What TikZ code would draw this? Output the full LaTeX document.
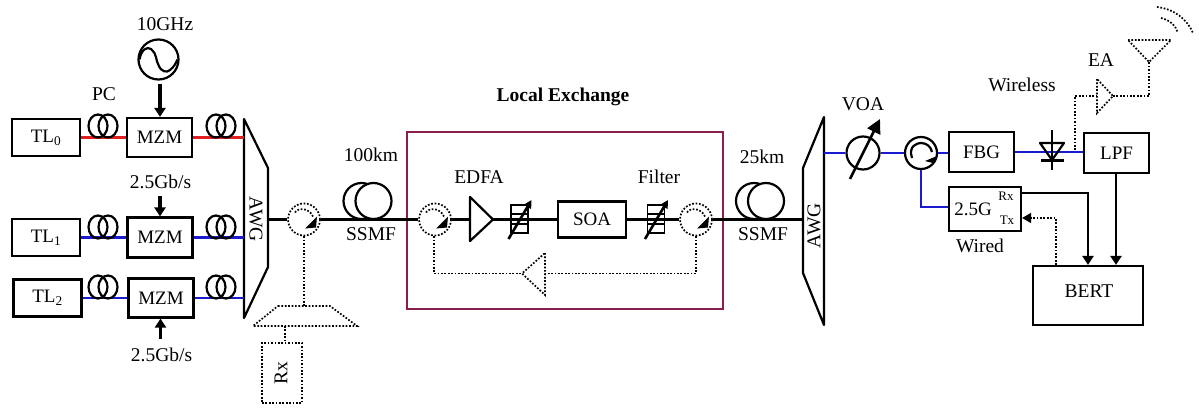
\documentclass[tikz,border=0pt]{standalone}
\usepackage{fontspec}
\setmainfont{Liberation Serif}
\usetikzlibrary{arrows.meta}
\definecolor{maroon}{HTML}{8A1F4F}
\definecolor{fibblue}{HTML}{1A1AD0}
\definecolor{fibred}{HTML}{E02020}
\tikzset{
  x=1pt,y=-1pt,
  box/.style={draw=black,line width=2.2pt,inner sep=0pt,align=center,font=\fontsize{19}{21}\selectfont},
  lab/.style={inner sep=0pt,font=\fontsize{19.5}{21}\selectfont},
  fibre/.style={line width=2.3pt,black},
  bluef/.style={line width=2.4pt,fibblue},
  redf/.style={line width=2.4pt,fibred},
  dots/.style={line width=1.7pt,dash pattern=on 1.7pt off 1.7pt},
  ring/.style={circle,draw=black,line width=2.2pt,inner sep=0pt,minimum size=#1},
  dring/.style={circle,dots,draw=black,inner sep=0pt,minimum size=32pt},
  coil/.style={line width=2.2pt},
  thick arrow/.style={line width=3.2pt,-{Triangle[length=9pt,width=11pt]}},
  sig/.style={line width=2.4pt,-{Triangle[length=9pt,width=11pt]}},
}
\newcommand{\pcoil}[2]{\draw[coil] (#1-5,#2) ellipse [x radius=9.5,y radius=11.5];\draw[coil] (#1+5,#2) ellipse [x radius=9.5,y radius=11.5];}
\newcommand{\fibrecoil}[2]{\draw[coil] (#1-6,#2) circle [radius=18];\draw[coil,fill=white] (#1+6,#2) circle [radius=18];}
\newcommand{\tunefilter}[2]{%
  \draw[line width=1.9pt] (#1-8.5,#2-14) rectangle (#1+8.5,#2+14);
  \draw[line width=1.9pt] (#1-8.5,#2-5) -- (#1+8.5,#2-5) (#1-8.5,#2+5) -- (#1+8.5,#2+5);
  \draw[line width=2.6pt,-{Triangle[length=8pt,width=8pt]}] (#1-11,#2+20) -- (#1+12,#2-19);}
\newcommand{\couplerin}[2]{%
  \draw[dots] (#1-9,#2-7) .. controls (#1-6,#2-12) and (#1+5,#2-12) .. (#1+9,#2-3);
  \fill (#1+1,#2+9) -- (#1+13,#2-3) -- (#1+12,#2+8) -- cycle;}
\begin{document}
\begin{tikzpicture}
\useasboundingbox (0,0) rectangle (1199,407);
% transmitters
\node[box,minimum width=68pt,minimum height=37pt] (tl0) at (46,137.5) {TL\textsubscript{0}};
\node[box,minimum width=68pt,minimum height=37pt] (tl1) at (46,237.5) {TL\textsubscript{1}};
\node[box,minimum width=68pt,minimum height=37pt] (tl2) at (47.5,298) {TL\textsubscript{2}};
\node[box,minimum width=65pt,minimum height=39pt] (mzm0) at (159.5,137.5) {MZM};
\node[box,minimum width=65pt,minimum height=40pt] (mzm1) at (160,237.5) {MZM};
\node[box,minimum width=65pt,minimum height=39pt] (mzm2) at (161,298) {MZM};
% AWG left
\coordinate (al1) at (244,119); \coordinate (al2) at (268,168);
\coordinate (al3) at (268,267); \coordinate (al4) at (244,318);
\draw[line width=2.2pt,line join=round] (al1) -- (al2) -- (al3) -- (al4) -- cycle;
\node[lab,rotate=-90] (awgl) at (256,219) {AWG};
\coordinate (a0) at (244,137.5); \coordinate (a1) at (244,237.5); \coordinate (a2) at (244,298);
\coordinate (aout) at (268,219.5);
\draw[redf] (tl0.east) -- (mzm0.west) (mzm0.east) -- (a0);
\draw[bluef] (tl1.east) -- (mzm1.west) (mzm1.east) -- (a1);
\draw[bluef] (tl2.east) -- (mzm2.west) (mzm2.east) -- (a2);
\pcoil{103}{126}\pcoil{221}{126}
\pcoil{103}{227}\pcoil{221}{227}
\pcoil{103}{287}\pcoil{221}{287}
% RF sources
\node[lab] (ghz) at (165,24) {10GHz};
\node[ring=40pt] (src) at (158.5,59.5) {};
\draw[line width=2.2pt] (139.5,59.5) .. controls (141,50) and (147,46) .. (151,49) .. controls (157,53) and (156,62) .. (158.5,65) .. controls (161,72) and (167,73) .. (170,70) .. controls (174,67) and (176,63) .. (177.5,59.5);
\coordinate (srcarr) at (160,84);
\draw[thick arrow] (srcarr) -- (mzm0.north -| srcarr);
\node[lab] (pc) at (104,94) {PC};
\node[lab] (d1) at (160.5,182) {2.5Gb/s};
\node[lab] (d2) at (161.5,355) {2.5Gb/s};
\coordinate (d1a) at (160,196); \coordinate (d2a) at (160.5,339);
\draw[thick arrow] (d1a) -- (mzm1.north -| d1a);
\draw[thick arrow] (d2a) -- (mzm2.south -| d2a);
% coupler 1 and Rx
\node[dring] (c1) at (304,219.5) {};
\couplerin{304}{219.5}
\draw[fibre] (aout) -- (c1.west);
\coordinate (t1) at (278,306); \coordinate (t2) at (330,306);
\coordinate (t3) at (357,326); \coordinate (t4) at (253,326);
\draw[dots] (t1) -- (t2) -- (t3) -- (t4) -- cycle;
\coordinate (t5) at (304,306); \coordinate (t6) at (285,326);
\node[draw,dots,minimum width=40pt,minimum height=60pt,inner sep=0pt] (rxb) at (282,373) {};
\node[lab,rotate=90] (rxt) at (281,373) {Rx};
\draw[dots] (c1.south) -- (t5);
\draw[dots] (t6) -- (rxb.north -| t6);
% local exchange
\node[draw=maroon,line width=2.4pt,minimum width=316pt,minimum height=177pt,inner sep=0pt] (le) at (565,220.5) {};
\node[lab,font=\fontsize{19.5}{21}\selectfont\bfseries] (let) at (563,97) {Local Exchange};
\node[dring] (c2) at (435,219.5) {};
\node[dring] (c3) at (696,219.5) {};
\couplerin{435}{219.5}\couplerin{696}{219.5}
\draw[fibre] (c1.east) -- (c2.west);
\fibrecoil{367.5}{201}
\node[lab] (km1) at (371,155) {100km};
\node[lab] (ss1) at (371,234) {SSMF};
\coordinate (e1) at (470,197); \coordinate (e2) at (470,241); \coordinate (e3) at (493,219.5);
\coordinate (f1) at (519.5,219.5); \coordinate (f2) at (656,219.5);
\node[box,minimum width=68pt,minimum height=36pt] (soa) at (592,219.5) {SOA};
\draw[fibre] (c2.east) -- (e1 |- e3) (e3) -- (soa.west) (soa.east) -- (c3.west);
\draw[line width=2.2pt,line join=round,fill=white] (e1) -- (e2) -- (e3) -- cycle;
\tunefilter{519.5}{219}\tunefilter{656}{219}
\node[lab] (edfa) at (479,177) {EDFA};
\node[lab] (filt) at (659,177) {Filter};
% loop
\coordinate (g1) at (545,253); \coordinate (g2) at (545,295); \coordinate (g3) at (522,273.5);
\draw[dots] (g1) -- (g2) -- (g3) -- cycle;
\draw[dots] (c2.south -| 434,0) -- (434,273.5) -- (g3);
\draw[dots] (c3.south) -- (696,273.5) -- (545,273.5);
% right AWG
\coordinate (ar1) at (824,117); \coordinate (ar2) at (803,168);
\coordinate (ar3) at (803,273); \coordinate (ar4) at (824,325);
\draw[line width=2.2pt,line join=round] (ar1) -- (ar2) -- (ar3) -- (ar4) -- cycle;
\node[lab,rotate=90] (awgr) at (814,226) {AWG};
\coordinate (arin) at (803,219.5); \coordinate (arout) at (824,153);
\draw[fibre] (c3.east) -- (arin);
\fibrecoil{760}{201}
\node[lab] (km2) at (762,157) {25km};
\node[lab] (ss2) at (763,234) {SSMF};
% VOA, circulator
\node[ring=33pt] (voa) at (863,153) {};
\node[ring=32pt] (circ) at (921,153) {};
\node[box,minimum width=65pt,minimum height=40pt] (fbg) at (981.5,152) {FBG};
\node[box,minimum width=65pt,minimum height=40pt] (lpf) at (1116.5,153) {LPF};
\node[box,minimum width=72pt,minimum height=44pt] (wired) at (985,209) {};
\node[box,minimum width=110pt,minimum height=59pt] (bert) at (1088,295.5) {};
\node[lab] (bertt) at (1089,291) {BERT};
\draw[bluef] (arout) -- (voa.west) (voa.east) -- (circ.west) (circ.east) -- (fbg.west |- circ.east);
\draw[line width=2.6pt,-{Triangle[length=14pt,width=14pt]}] (850,179) -- (880,119);
\node[lab] (voat) at (863,104) {VOA};
\draw[line width=2.2pt] (912,158) .. controls (908,146) and (917,143) .. (921,143) .. controls (927,143) and (931,147) .. (932,152);
\fill (925,161) -- (937,156) -- (933,163) -- cycle;
\draw[bluef] (circ.south) -- (921,207) -- (wired.west |- 0,207);
% fibre to LPF and diode
\draw[bluef] (fbg.east) -- (lpf.west |- fbg.east);
\coordinate (da) at (1040,143); \coordinate (db) at (1064,143); \coordinate (dc) at (1052,160);
\draw[line width=2.2pt,line join=round] (da) -- (db) -- (dc) -- cycle;
\draw[line width=2.2pt] (1041,160.5) -- (1064,160.5) (1052,130) -- (1052,170);
% Wired texts
\node[lab,font=\fontsize{19}{21}\selectfont] (g25) at (973,209) {2.5G};
\node[lab,font=\fontsize{13}{14}\selectfont] (rxl) at (1006,196.5) {Rx};
\node[lab,font=\fontsize{13}{14}\selectfont] (txl) at (1007,220) {Tx};
\node[lab] (wt) at (980,246) {Wired};
\node[lab] (wl) at (1022,85) {Wireless};
\node[lab] (eat) at (1101,60) {EA};
% to BERT
\coordinate (rxs) at (1021,193); \coordinate (rxd) at (1088,193); \coordinate (txs) at (1056,218);
\draw[sig] (rxs) -- (rxd) -- (rxd |- bert.north);
\draw[sig] (lpf.south -| 1116,0) -- (bert.north -| 1116,0);
\draw[dots,-{Triangle[length=9pt,width=10pt]}] (bert.north -| txs) -- (txs) -- (wired.east |- txs);
% wireless branch
\coordinate (w1) at (1075,150); \coordinate (w2) at (1075,96);
\coordinate (ea1) at (1097,79); \coordinate (ea2) at (1097,113); \coordinate (ea3) at (1113,96);
\coordinate (an) at (1149,96); \coordinate (an1) at (1128,40); \coordinate (an2) at (1171,40); \coordinate (an3) at (1149,62);
\draw[dots] (w1) -- (w2) -- (1097,96);
\draw[dots] (ea1) -- (ea2) -- (ea3) -- cycle;
\draw[dots] (ea3) -- (an) -- (an3);
\draw[dots] (an1) -- (an2) -- (an3) -- cycle;
\draw[dots] (1161,18) .. controls (1170,20) and (1176,26) .. (1178,33);
\draw[dots] (1157,7) .. controls (1174,9) and (1187,19) .. (1193,33);
\end{tikzpicture}
\end{document}
